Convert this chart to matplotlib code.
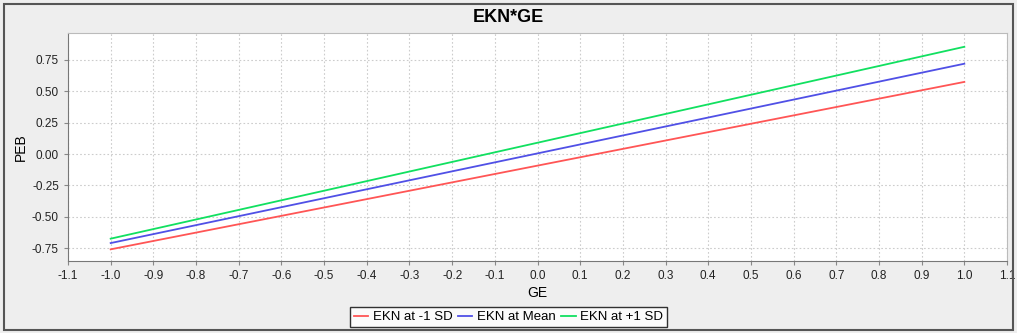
import matplotlib
matplotlib.use("Agg")
import matplotlib.pyplot as plt
from matplotlib.patches import Rectangle

plt.rcParams['font.family'] = ['Liberation Sans', 'DejaVu Sans']

ge = [-1.0, 1.0]
peb_low = [-0.76, 0.575]
peb_mean = [-0.71, 0.72]
peb_high = [-0.675, 0.855]
labels = ["EKN at -1 SD", "EKN at Mean", "EKN at +1 SD"]
colors = ["#FF5555", "#5050E6", "#11E060"]
xticks = [round(-1.1 + 0.1 * i, 1) for i in range(23)]
yticks = [-0.75, -0.5, -0.25, 0.0, 0.25, 0.5, 0.75]

W, H = 1017, 333
fig = plt.figure(figsize=(W / 100, H / 100), dpi=100, facecolor="#EEEEEE")
fig.patches.append(Rectangle((4 / W, 3 / H), 1009 / W, 326 / H, transform=fig.transFigure,
                             fill=False, edgecolor="#555555", linewidth=1.5))
ax = fig.add_axes([68 / W, (H - 261) / H, (1007 - 68) / W, (261 - 33) / H])
ax.set_facecolor("white")
for ys, c, lab in zip([peb_low, peb_mean, peb_high], colors, labels):
    ax.plot(ge, ys, color=c, linewidth=1.3, label=lab)
ax.set_xlim(-1.1, 1.1)
ax.set_ylim(-0.853, 0.965)
ax.set_xticks(xticks)
ax.set_xticklabels([f"{t:.1f}" for t in xticks])
ax.set_yticks(yticks)
ax.set_yticklabels([f"{t:.2f}" for t in yticks])
ax.grid(True, color="#CCCCCC", linestyle=(0, (1.5, 2)), linewidth=0.8)
ax.tick_params(labelsize=8.5, length=3, color="#888888", labelcolor="#222222")
for s in ["left", "bottom"]:
    ax.spines[s].set_color("#777777")
for s in ["top", "right"]:
    ax.spines[s].set_color("#BBBBBB")
ax.set_xlabel("GE", fontsize=10, labelpad=3)
ax.set_ylabel("PEB", fontsize=10, labelpad=3)
fig.text(0.5, 1 - 18 / H, "EKN*GE", ha="center", va="center", fontsize=13, fontweight="bold")
leg = fig.legend(loc="center", bbox_to_anchor=(0.5, 1 - 317 / H), ncol=3, fontsize=9.5,
                 frameon=True, fancybox=False, edgecolor="black", handlelength=1.1,
                 columnspacing=0.4, handletextpad=0.35, borderpad=0.3, borderaxespad=0)
leg.get_frame().set_linewidth(1.0)
fig.savefig("out.png", dpi=100, facecolor=fig.get_facecolor())
